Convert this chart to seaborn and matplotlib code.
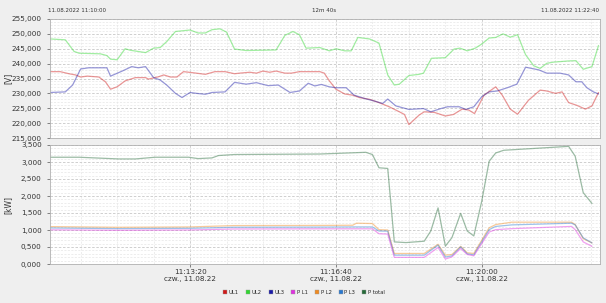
import matplotlib
matplotlib.use("Agg")
import matplotlib.pyplot as plt
from matplotlib.lines import Line2D
from matplotlib.ticker import MultipleLocator, FuncFormatter
import numpy as np
import pandas as pd
import seaborn as sns

# seconds after 11:10:00, voltages in V
ul1_t = [8, 22, 34, 43, 50, 59, 75, 84, 91, 100, 111, 125, 139, 143, 157, 164, 173, 182, 191, 202,
         221, 234, 248, 261, 268, 282, 291, 300, 309, 318, 330, 339, 350, 378, 384, 391, 400, 412, 423,
         432, 446, 459, 473, 487, 494, 500, 514, 521, 535, 550, 561, 573, 582, 590, 603, 619, 628, 639,
         649, 664, 680, 689, 701, 710, 719, 730, 742, 751, 760]
ul1_v = [237.3, 237.3, 236.6, 236.2, 235.5, 235.8, 235.5, 233.9, 231.4, 232.2, 234.2, 235.3, 235.3, 234.8,
         235.6, 236.2, 235.5, 235.5, 237.3, 237.0, 236.4, 237.3, 237.3, 236.6, 236.8, 237.1, 236.8, 237.5,
         237.1, 237.5, 236.8, 236.8, 237.3, 237.3, 236.8, 234.2, 231.4, 229.8, 229.4, 228.6, 228.0, 226.9,
         225.5, 223.8, 222.9, 219.5, 222.7, 223.8, 223.6, 222.4, 222.9, 224.7, 224.4, 223.2, 229.4, 232.2,
         229.4, 224.7, 223.0, 227.7, 231.1, 230.8, 230.0, 230.5, 226.9, 226.0, 224.7, 225.8, 230.3]

ul2_t = [8, 29, 41, 48, 77, 86, 91, 100, 111, 118, 139, 150, 159, 168, 180, 200, 211, 221, 230, 241,
         250, 255, 261, 277, 318, 330, 341, 350, 359, 378, 391, 400, 412, 421, 430, 446, 459, 471, 480,
         487, 500, 514, 520, 531, 550, 562, 570, 580, 591, 600, 610, 619, 629, 639, 649, 660, 671, 680,
         689, 698, 719, 729, 739, 751, 760]
ul2_v = [248.3, 248.0, 244.1, 243.5, 243.3, 242.7, 241.5, 241.3, 245.0, 244.5, 243.7, 245.2, 245.4, 247.4,
         250.8, 251.3, 250.3, 250.3, 251.4, 251.7, 250.6, 248.0, 244.9, 244.4, 244.6, 249.5, 250.8, 249.7,
         245.2, 245.4, 244.3, 245.0, 244.3, 244.3, 248.8, 248.3, 246.9, 236.2, 232.8, 233.1, 236.0, 236.4,
         236.8, 241.8, 242.0, 244.9, 245.2, 244.3, 245.2, 246.6, 248.6, 248.8, 250.0, 248.9, 249.7, 243.0,
         239.3, 238.4, 240.1, 240.5, 240.9, 241.0, 238.1, 239.0, 246.1]

ul3_t = [8, 29, 39, 50, 61, 86, 91, 107, 120, 129, 139, 150, 159, 168, 180, 189, 200, 209, 221, 230,
         248, 261, 277, 291, 307, 321, 337, 350, 362, 371, 380, 391, 400, 414, 425, 439, 453, 464, 471,
         482, 500, 520, 530, 544, 553, 569, 578, 589, 600, 610, 621, 635, 648, 660, 678, 689, 707, 719,
         729, 737, 744, 753, 760]
ul3_v = [230.3, 230.5, 232.8, 238.2, 238.6, 238.6, 235.8, 237.5, 239.0, 238.6, 239.0, 235.3, 234.5, 232.8,
         230.0, 228.6, 230.3, 230.0, 229.7, 230.3, 230.5, 233.7, 233.1, 233.6, 232.6, 232.8, 230.3, 230.8,
         233.4, 232.5, 233.0, 232.2, 231.9, 231.9, 229.4, 228.3, 227.4, 226.6, 228.1, 225.8, 224.6, 224.9,
         223.8, 224.9, 225.5, 225.5, 224.6, 225.5, 228.9, 230.5, 230.8, 231.9, 233.1, 238.8, 237.9, 236.8,
         236.8, 236.2, 233.9, 233.9, 231.9, 230.5, 229.8]

# power in kW
p_t = [8, 100, 200, 260, 378, 423, 428, 450, 459, 471, 480, 521, 540, 550, 559, 571, 580, 589, 610,
       619, 641, 723, 728, 739, 751]
pl1_v = [1.005, 0.990, 1.000, 1.030, 1.035, 1.035, 1.035, 1.035, 0.890, 0.880, 0.195, 0.195, 0.485, 0.145,
         0.210, 0.455, 0.280, 0.240, 0.940, 1.010, 1.040, 1.105, 1.010, 0.650, 0.520]
pl2_v = [1.100, 1.080, 1.090, 1.130, 1.135, 1.140, 1.200, 1.190, 1.010, 1.000, 0.310, 0.310, 0.580, 0.260,
         0.280, 0.520, 0.330, 0.310, 1.065, 1.160, 1.230, 1.230, 1.160, 0.745, 0.620]
pl3_v = [1.060, 1.040, 1.050, 1.080, 1.085, 1.090, 1.090, 1.090, 0.970, 0.965, 0.260, 0.260, 0.555, 0.205,
         0.240, 0.505, 0.300, 0.270, 1.010, 1.105, 1.150, 1.200, 1.150, 0.770, 0.620]

ptot_t = [8, 48, 102, 125, 152, 198, 211, 230, 239, 261, 378, 441, 450, 459, 471, 480, 496, 521, 530,
          540, 550, 559, 571, 580, 589, 600, 610, 619, 630, 719, 728, 739, 751]
ptot_v = [3.140, 3.140, 3.090, 3.090, 3.140, 3.140, 3.100, 3.120, 3.190, 3.220, 3.235, 3.285, 3.220, 2.830,
          2.810, 0.650, 0.630, 0.670, 0.970, 1.650, 0.525, 0.775, 1.490, 0.970, 0.825, 1.860, 3.020, 3.265,
          3.345, 3.460, 3.170, 2.100, 1.780]

names = ["UL1", "UL2", "UL3", "P L1", "P L2", "P L3", "P total"]
colors = {"UL1": "#d01818", "UL2": "#30d830", "UL3": "#1818a8", "P L1": "#e030e0",
          "P L2": "#f08a20", "P L3": "#2878d0", "P total": "#246a38"}

volt = pd.concat([
    pd.DataFrame({"t": ul1_t, "v": ul1_v, "s": "UL1"}),
    pd.DataFrame({"t": ul2_t, "v": ul2_v, "s": "UL2"}),
    pd.DataFrame({"t": ul3_t, "v": ul3_v, "s": "UL3"}),
])
power = pd.concat([
    pd.DataFrame({"t": ptot_t, "v": ptot_v, "s": "P total"}),
    pd.DataFrame({"t": p_t, "v": pl2_v, "s": "P L2"}),
    pd.DataFrame({"t": p_t, "v": pl3_v, "s": "P L3"}),
    pd.DataFrame({"t": p_t, "v": pl1_v, "s": "P L1"}),
])

sns.set_style("white")
plt.rcParams['font.family'] = ['DejaVu Sans']

fig = plt.figure(figsize=(6.06, 3.03), dpi=100, facecolor="#efefef")
W, H = 606, 303
ax1 = fig.add_axes([50 / W, 1 - 138 / H, 550 / W, 119 / H])
ax2 = fig.add_axes([50 / W, 1 - 264 / H, 550 / W, 119 / H])

sns.lineplot(data=volt, x="t", y="v", hue="s", palette=colors, estimator=None, sort=False,
             linewidth=0.9, alpha=0.45, legend=False, ax=ax1)
sns.lineplot(data=power, x="t", y="v", hue="s", palette=colors, estimator=None, sort=False,
             linewidth=0.9, alpha=0.45, legend=False, ax=ax2)

comma = lambda v, p: f"{v:.3f}".replace(".", ",")
for ax, lo, hi, step, minor, lab in [(ax1, 215, 255, 5, 1, "[V]"), (ax2, 0, 3.5, 0.5, 0.1, "[kW]")]:
    ax.set_facecolor("white")
    ax.set_xlim(8, 762)
    ax.set_ylim(lo, hi)
    ax.yaxis.set_major_locator(MultipleLocator(step))
    ax.yaxis.set_minor_locator(MultipleLocator(minor))
    ax.yaxis.set_major_formatter(FuncFormatter(comma))
    ax.xaxis.set_major_locator(MultipleLocator(200))
    ax.xaxis.set_minor_locator(MultipleLocator(50))
    ax.grid(True, which="major", color="#c8c8c8", linestyle=(0, (3, 2)), linewidth=0.6)
    ax.grid(True, which="minor", color="#e6e6e6", linestyle=(0, (3, 2)), linewidth=0.5)
    ax.tick_params(axis="both", which="major", labelsize=5.2, colors="#555555",
                   labelcolor="#333333", length=2.5, width=0.5, direction="out")
    ax.tick_params(axis="both", which="minor", length=1.5, width=0.4, colors="#777777")
    ax.tick_params(left=True, bottom=True)
    ax.set_ylabel(lab, fontsize=5.5, color="#333333")
    ax.yaxis.set_label_coords(-38 / 550, 0.5)
    ax.set_xlabel("")
    for sp in ax.spines.values():
        sp.set_color("#b0b0b0")
        sp.set_linewidth(0.6)

ax1.tick_params(axis="x", which="both", labelbottom=False, length=0)
ax2.xaxis.set_major_formatter(FuncFormatter(
    lambda v, p: f"11:{10 + int(v) // 60:02d}:{int(v) % 60:02d}\nczw., 11.08.22"))
ax2.tick_params(axis="x", labelsize=5.2, pad=0.8)

fig.text(48 / W, 1 - 10 / H, "11.08.2022 11:10:00", fontsize=4, color="#333333", va="center")
fig.text(324 / W, 1 - 10 / H, "12m 40s", fontsize=4, color="#333333", va="center", ha="center")
fig.text(599 / W, 1 - 10 / H, "11.08.2022 11:22:40", fontsize=4, color="#333333", va="center", ha="right")

handles = [Line2D([], [], marker="s", linestyle="", markersize=3, markerfacecolor=colors[n],
                  markeredgecolor="#999999", markeredgewidth=0.3) for n in names]
fig.legend(handles, names, loc="center", bbox_to_anchor=(304 / W, 1 - 292 / H), ncol=7,
           fontsize=3.8, frameon=False, handlelength=0.8, handletextpad=0.3, columnspacing=1.3)

fig.savefig("out.png", dpi=100, facecolor=fig.get_facecolor())
